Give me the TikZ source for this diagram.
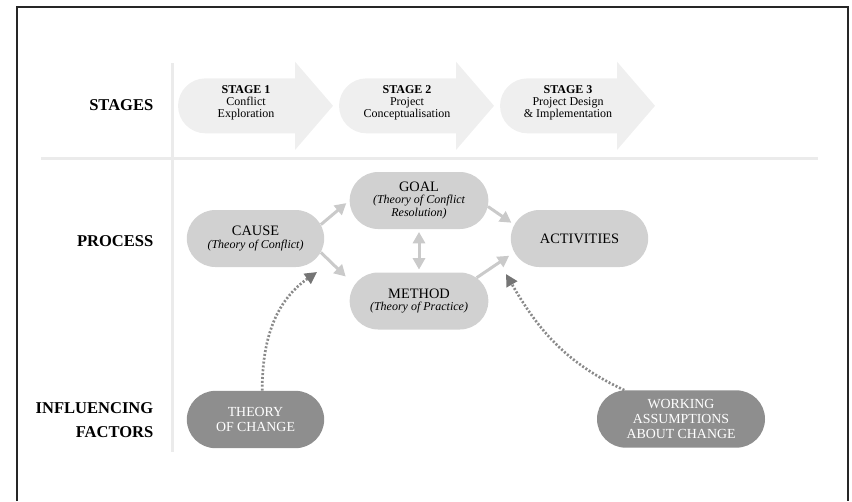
\documentclass[tikz,border=0pt]{standalone}
\usepackage{fontspec}
\setmainfont{Liberation Serif}
\usetikzlibrary{arrows.meta, shapes.misc}

\definecolor{stagefill}{HTML}{EFEFEF}
\definecolor{sepgrey}{HTML}{EBEBEB}
\definecolor{procfill}{HTML}{D1D1D1}
\definecolor{factorfill}{HTML}{8E8E8E}
\definecolor{flowgrey}{HTML}{CACACA}
\definecolor{dotgrey}{HTML}{8A8A8A}
\newcommand{\procsub}{\fontsize{9}{9}\selectfont\itshape}

\begin{document}
\begin{tikzpicture}[x=0.75pt, y=-0.75pt, >=Stealth,
    rowlabel/.style={font=\fontsize{12.4}{18}\selectfont\bfseries, align=right, anchor=east},
    stagetext/.style={font=\fontsize{9}{9.2}\selectfont, align=center},
    process/.style={rounded rectangle, fill=procfill, minimum width=103pt, minimum height=42.75pt,
        inner sep=0pt, align=center, font=\fontsize{10.8}{9.5}\selectfont},
    factor/.style={rounded rectangle, fill=factorfill, text=white, minimum width=103pt, minimum height=43pt,
        inner sep=0pt, align=center, font=\fontsize{10.4}{11.1}\selectfont},
    flow/.style={draw=flowgrey, line width=2.25pt, -{Triangle[length=8.5pt,width=9pt]}},
    influence/.style={draw=dotgrey, line width=2pt, dash pattern=on 1.5pt off 1.4pt,
        -{Triangle[length=9pt,width=9pt,color=dotgrey!85!black]}}]
    \useasboundingbox (0,0) rectangle (852,501);
    % frame
    \draw[line width=1.5pt, black!85] (16.5,501) -- (16.5,6.5) -- (848.3,6.5) -- (848.3,501);
    % separators
    \draw[sepgrey, line width=2.25pt] (172,63) -- (172,452);
    \draw[sepgrey, line width=2.25pt] (41,158) -- (818,158);

    % row labels
    \node[rowlabel] (stages) at (158,105) {STAGES};
    \node[rowlabel] (process) at (158,241) {PROCESS};
    \node[rowlabel] (factors) at (158,420.5) {INFLUENCING\\FACTORS};

    % stages
    \foreach \x/\n/\l in {178/1/{Conflict\\Exploration}, 339/2/{Project\\Conceptualisation}, 500/3/{Project Design\\\& Implementation}} {
        \fill[stagefill] (\x+27.5,78.3) -- (\x+117,78.3) -- (\x+117,61.7) -- (\x+155,105.8) -- (\x+117,150)
            -- (\x+117,133.3) -- (\x+27.5,133.3) arc[start angle=270, end angle=90, radius=20.6pt] -- cycle;
        \node[stagetext] (stage\n) at (\x+68,103) {\textbf{STAGE \n}\\\l};
    }

    % process
    \node[process] (cause) at (255.5,238.5) {CAUSE\\\procsub (Theory of Conflict)};
    \node[process, minimum width=104pt] (goal) at (419,200.5) {GOAL\\\procsub (Theory of Conflict\\\procsub Resolution)};
    \node[process, minimum width=104pt] (method) at (419,301) {METHOD\\\procsub (Theory of Practice)};
    \node[process] (activities) at (579.5,238.5) {ACTIVITIES};

    % influencing factors
    \node[factor] (theory) at (255.5,419.5) {THEORY\\OF CHANGE};
    \node[factor, minimum width=126pt] (working) at (681,419) {WORKING\\ASSUMPTIONS\\ABOUT CHANGE};
    \coordinate (causetip) at (317,272);
    \coordinate (methodtip) at (506,274);

    \draw[flow, shorten >=3pt] (cause.12) -- (goal.west);
    \draw[flow, shorten >=9pt] (cause.-12) -- (method.166);
    \draw[flow, {Triangle[length=8.5pt,width=9pt]}-{Triangle[length=8.5pt,width=9pt]}, shorten <=2pt, shorten >=2pt] (goal.south) -- (method.north);
    \draw[flow, shorten >=2.5pt] (goal.-5) -- (activities.168);
    \draw[flow, shorten >=4.5pt] (method.22) -- (activities.192);
    \draw[influence] (theory.77) to[out=90, in=215] (causetip);
    \draw[influence] (working.153) to[out=155, in=-60] (methodtip);
\end{tikzpicture}
\end{document}
